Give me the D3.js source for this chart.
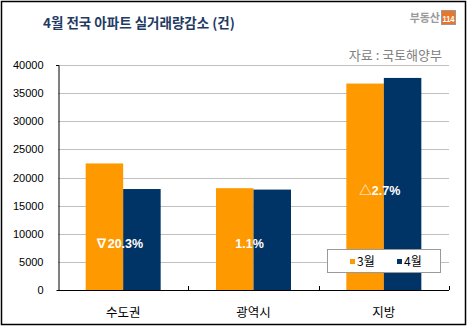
<!DOCTYPE html>
<html><head><meta charset="utf-8">
<script src="https://cdn.jsdelivr.net/npm/d3@7"></script>
<style>body{margin:0;background:#fff}svg{display:block}</style>
</head><body>
<script>
const categories = ["수도권", "광역시", "지방"];
const seriesNames = ["3월", "4월"];
const march = [22500, 18100, 36700];
const april = [17950, 17850, 37700];
const changeLabels = ["∇20.3%", "1.1%", "△2.7%"];
const labelValues = [8200, 8200, 17700];
const yTicks = [0, 5000, 10000, 15000, 20000, 25000, 30000, 35000, 40000];
const colors = ["#FF9900", "#003366"];

const W = 468, H = 327;
const svg = d3.select("body").append("svg").attr("width", W).attr("height", H);
const font = "'Liberation Sans', Arial, 'Noto Sans CJK KR', sans-serif";

svg.append("rect").attr("x", 1.5).attr("y", 1.5).attr("width", 464).attr("height", 323)
  .attr("fill", "#fff").attr("stroke", "#000").attr("stroke-width", 1.5);

// title
svg.append("text").attr("x", 43).attr("y", 27.5).text("4월 전국 아파트 실거래량감소 (건)")
  .attr("font-family", "'Noto Sans CJK KR', sans-serif").attr("font-weight", "bold")
  .attr("font-size", 13.5).attr("fill", "#1F3A63");

// logo
svg.append("text").attr("x", 440).attr("y", 22).attr("text-anchor", "end").text("부동산")
  .attr("font-family", "'Noto Sans CJK KR', sans-serif").attr("font-weight", "bold")
  .attr("font-size", 11).attr("fill", "#9a9a9a");
svg.append("rect").attr("x", 441.5).attr("y", 10.5).attr("width", 14).attr("height", 14)
  .attr("fill", "#E8762A").attr("stroke", "#999");
svg.append("text").attr("x", 448.5).attr("y", 21.5).attr("text-anchor", "middle").text("114")
  .attr("font-family", font).attr("font-weight", "bold").attr("font-size", 9)
  .attr("fill", "#fff").attr("textLength", 12).attr("lengthAdjust", "spacingAndGlyphs");

// source
svg.append("text").attr("x", 442).attr("y", 59.5).attr("text-anchor", "end").text("자료 : 국토해양부")
  .attr("font-family", "'Noto Sans CJK KR', sans-serif").attr("font-size", 13).attr("fill", "#808080");

const x0 = 58, x1 = 449, yTop = 65, yBot = 290;
const x = d3.scaleBand().domain(categories).range([x0, x1]).paddingInner(0).paddingOuter(0);
const y = d3.scaleLinear().domain([0, 40000]).range([yBot, yTop]);

// grid
svg.append("g").selectAll("line").data(yTicks.filter(d => d > 0)).join("line")
  .attr("x1", x0).attr("x2", x1).attr("y1", d => Math.round(y(d)) + 0.5).attr("y2", d => Math.round(y(d)) + 0.5)
  .attr("stroke", "#c0c0c0").attr("stroke-width", 1);

// bars
const barW = 37.5;
const groups = svg.append("g");
categories.forEach((c, i) => {
  const cx = x(c) + x.bandwidth() / 2;
  [march[i], april[i]].forEach((v, j) => {
    groups.append("rect")
      .attr("x", cx - barW + j * barW).attr("width", barW)
      .attr("y", y(v)).attr("height", yBot - y(v))
      .attr("fill", colors[j]);
  });
  svg.append("text").attr("x", cx - 4).attr("y", y(labelValues[i]) + 4.5)
    .attr("text-anchor", "middle").text(changeLabels[i])
    .attr("font-family", font).attr("font-weight", "bold").attr("font-size", 12.5).attr("fill", "#fff");
});

// y axis
const yAxis = d3.axisLeft(y).tickValues(yTicks).tickSize(2).tickFormat(d3.format("d"));
const ya = svg.append("g").attr("transform", `translate(${x0 + 0.5},0)`).call(yAxis);
ya.select(".domain").attr("stroke", "#000");
ya.selectAll(".tick line").attr("stroke", "#000").attr("opacity", 0);
ya.selectAll(".tick text").attr("font-family", font).attr("font-size", 11).attr("fill", "#000").attr("x", -15);

// x axis
const xa = svg.append("g").attr("transform", `translate(0,${yBot + 0.5})`)
  .call(d3.axisBottom(x).tickSize(0).tickPadding(18));
xa.select(".domain").attr("stroke", "#000").attr("d", `M${x0},0H${x1}`);
xa.selectAll(".tick text").attr("font-family", "'Noto Sans CJK KR', sans-serif").attr("font-size", 12.5).attr("fill", "#000");
svg.append("g").selectAll("line").data(categories).join("line")
  .attr("x1", d => Math.round(x(d) + x.bandwidth()) + 0.5).attr("x2", d => Math.round(x(d) + x.bandwidth()) + 0.5)
  .attr("y1", yBot - 4).attr("y2", yBot).attr("stroke", "#000");
svg.append("line").attr("x1", x0 - 2).attr("x2", x0).attr("y1", yTop + 0.5).attr("y2", yTop + 0.5).attr("stroke", "#000");

// legend
const lg = svg.append("g");
lg.append("rect").attr("x", 327.5).attr("y", 249.5).attr("width", 113).attr("height", 23)
  .attr("fill", "#fff").attr("stroke", "#999");
seriesNames.forEach((s, i) => {
  const lx = 350 + i * 47;
  lg.append("rect").attr("x", lx).attr("y", 259).attr("width", 5).attr("height", 5).attr("fill", colors[i]);
  lg.append("text").attr("x", lx + 7).attr("y", 266).text(s)
    .attr("font-family", "'Noto Sans CJK KR', sans-serif").attr("font-size", 12).attr("fill", "#000");
});
</script>
</body></html>
